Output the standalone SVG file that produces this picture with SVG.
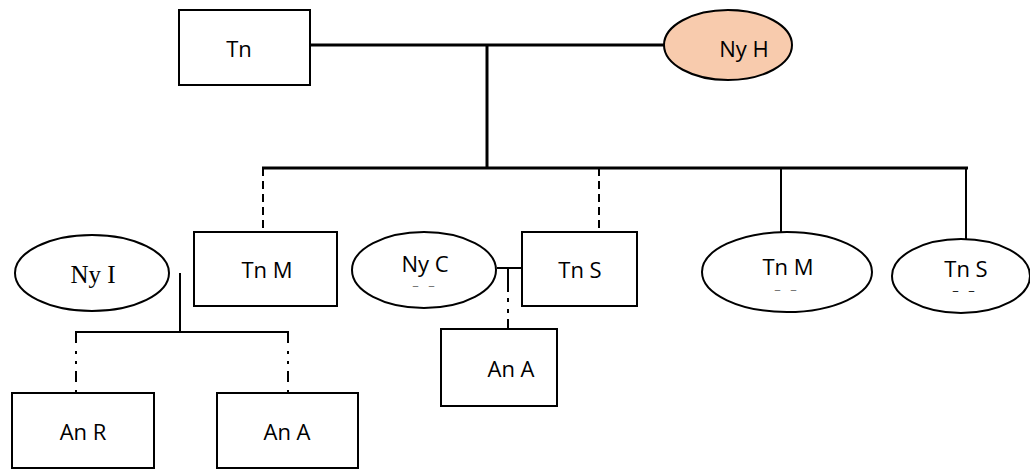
<svg xmlns="http://www.w3.org/2000/svg" width="1030" height="469" viewBox="0 0 1030 469">
<style>
.box{fill:#fff;stroke:#000;stroke-width:2}
.ell{fill:#fff;stroke:#000;stroke-width:2}
.t{font-family:"Open Sans","Liberation Sans",sans-serif;font-size:22px;fill:#000;text-anchor:middle}
.ts{font-family:"Liberation Serif","Times New Roman",serif;font-size:25px;fill:#000;text-anchor:middle}
.dd{font-family:"Open Sans","Liberation Sans",sans-serif;font-size:13px;fill:#777;text-anchor:middle;letter-spacing:3px}
.ln{stroke:#000;stroke-width:2;fill:none}
.thick{stroke:#000;stroke-width:3;fill:none}
.dash{stroke:#000;stroke-width:2;fill:none;stroke-dasharray:8 5}
.dashdot{stroke:#000;stroke-width:2;fill:none;stroke-dasharray:11 8 3 7 3 7}
</style>
<rect width="1030" height="469" fill="#fff"/>
<g id="connectors">
<line class="thick" x1="310" y1="45" x2="664" y2="45"/>
<line class="thick" x1="487" y1="45" x2="487" y2="168"/>
<line class="thick" x1="262" y1="168" x2="968" y2="168"/>
<line class="dash" x1="263" y1="168" x2="263" y2="232"/>
<line class="dash" x1="599" y1="168" x2="599" y2="232"/>
<line class="ln" x1="781" y1="168" x2="781" y2="233"/>
<line class="ln" x1="966" y1="168" x2="966" y2="240"/>
<line class="ln" x1="180" y1="273" x2="180" y2="332"/>
<line class="ln" x1="75" y1="332" x2="289" y2="332"/>
<line class="dashdot" x1="76" y1="332" x2="76" y2="393"/>
<line class="dashdot" x1="288" y1="332" x2="288" y2="393"/>
<line class="ln" x1="497" y1="268" x2="522" y2="268"/>
<path class="ln" d="M508 268 V292"/>
<line class="ln" x1="508" y1="298" x2="508" y2="302"/>
<line class="ln" x1="508" y1="309" x2="508" y2="313"/>
<line class="ln" x1="508" y1="319" x2="508" y2="329"/>
</g>
<g id="tn">
<rect class="box" x="179" y="10" width="131" height="75"/>
<text class="t" x="239" y="57">Tn</text>
</g>
<g id="nyh">
<ellipse cx="728" cy="45" rx="64" ry="35" fill="#F8CBAD" stroke="#000" stroke-width="2"/>
<text class="t" x="744" y="57">Ny H</text>
</g>
<g id="nyi">
<ellipse class="ell" cx="92" cy="273" rx="77" ry="38"/>
<text class="ts" x="93" y="283">Ny I</text>
</g>
<g id="tnm1">
<rect class="box" x="194" y="232" width="143" height="74"/>
<text class="t" x="267" y="278">Tn M</text>
</g>
<g id="nyc">
<ellipse class="ell" cx="424" cy="270" rx="72" ry="38"/>
<text class="t" x="425" y="272">Ny C</text>
<text class="dd" x="425" y="290">– –</text>
</g>
<g id="tns1">
<rect class="box" x="522" y="232" width="115" height="74"/>
<text class="t" x="580" y="278">Tn S</text>
</g>
<g id="tnm2">
<ellipse class="ell" cx="787" cy="272" rx="85" ry="40"/>
<text class="t" x="788" y="275">Tn M</text>
<text class="dd" x="787" y="294">– –</text>
</g>
<g id="tns2">
<ellipse class="ell" cx="961" cy="276" rx="69" ry="37"/>
<text class="t" x="966" y="277">Tn S</text>
<text class="dd" x="965" y="295" style="fill:#222">– –</text>
</g>
<g id="anr">
<rect class="box" x="12" y="393" width="142" height="75"/>
<text class="t" x="83" y="440">An R</text>
</g>
<g id="ana1">
<rect class="box" x="217" y="393" width="141" height="75"/>
<text class="t" x="287" y="440">An A</text>
</g>
<g id="ana2">
<rect class="box" x="441" y="329" width="116" height="77"/>
<text class="t" x="511" y="377">An A</text>
</g>
</svg>
